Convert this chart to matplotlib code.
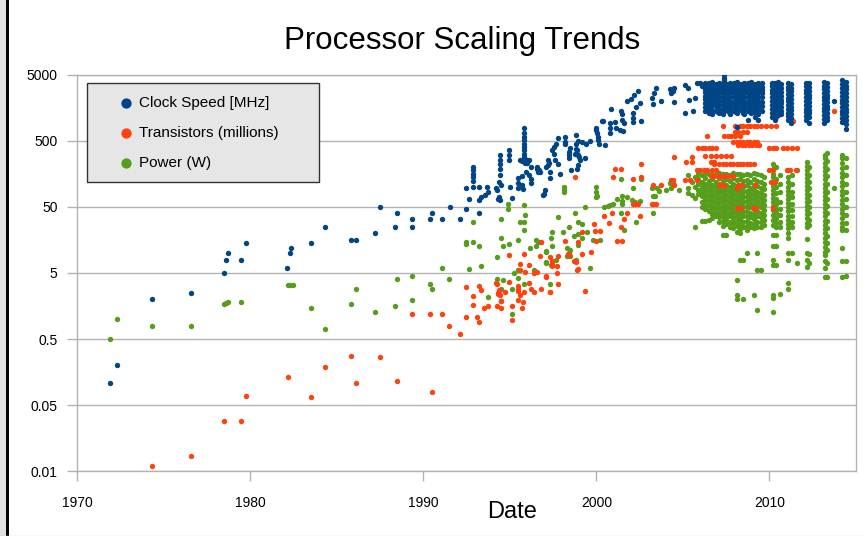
import matplotlib
matplotlib.use("Agg")
import matplotlib.pyplot as plt
from matplotlib.patches import Rectangle
from matplotlib.lines import Line2D
from matplotlib.ticker import FixedLocator, NullLocator

plt.rcParams['font.family'] = ['Liberation Sans', 'DejaVu Sans']

# ---- Clock speed [MHz] : scattered points up to ~2006
clock_x = [1971.9, 1972.3, 1974.35, 1976.6, 1978.5, 1978.6, 1978.7, 1979.5, 1979.75, 1982.15,
           1982.3, 1982.35, 1983.5, 1984.35, 1985.8, 1986.1, 1987.2, 1987.5, 1988.35, 1988.5,
           1989.35, 1989.35, 1990.4, 1990.5, 1991.1, 1991.55, 1992.1, 1992.5, 1992.65, 1992.45,
           1992.85, 1993.2, 1992.85, 1992.85, 1992.85, 1992.85, 1992.85, 1993.25, 1993.25, 1993.35,
           1993.55, 1993.75, 1993.7, 1994.2, 1994.25, 1994.3, 1994.35, 1994.45, 1994.5, 1994.4,
           1994.45, 1994.45, 1994.45, 1994.45, 1994.45, 1994.95, 1994.95, 1994.95, 1995.0, 1995.15,
           1995.45, 1995.5, 1995.45, 1995.7, 1995.7, 1995.75, 1995.6, 1995.7, 1995.9, 1996.0,
           1996.0, 1996.1, 1996.2, 1995.95, 1996.1, 1996.2, 1996.2, 1995.85, 1995.85, 1995.85,
           1995.85, 1995.85, 1995.85, 1995.85, 1995.85, 1995.85, 1996.6, 1996.65, 1996.75, 1996.7,
           1996.6, 1997.1, 1997.2, 1997.2, 1997.25, 1997.3, 1997.3, 1996.9, 1997.0, 1997.05,
           1997.45, 1997.55, 1997.65, 1997.55, 1997.6, 1997.9, 1997.8, 1998.2, 1998.2, 1998.2,
           1997.8, 1998.4, 1998.4, 1998.4, 1998.55, 1998.85, 1998.85, 1998.9, 1998.95, 1998.85,
           1998.95, 1999.2, 1999.4, 1998.9, 1998.75, 1999.0, 1999.05, 1998.95, 1998.9, 1999.35,
           1999.65, 2000.0, 2000.05, 2000.1, 2000.1, 2000.15, 2000.3, 2000.4, 2000.0, 2000.5,
           2000.8, 2000.8, 2000.8, 2000.85, 2001.05, 2001.15, 2001.35, 2001.55, 2001.45, 2001.5,
           2001.5, 2001.6, 2002.1, 2002.1, 2002.1, 2001.8, 2002.0, 2002.2, 2002.4, 2002.3,
           2002.55, 2002.6, 2003.2, 2003.35, 2003.45, 2003.3, 2003.75, 2004.25, 2004.3, 2004.4,
           2004.5, 2004.5, 2005.15, 2005.3, 2005.35, 2005.15, 2005.6, 2005.7, 2005.8, 2006.0,
           2006.1, 1998.5, 2013.75]
clock_y = [0.108, 0.2, 2.0, 2.5, 5.0, 8.0, 10.0, 8.0, 14.0, 6.0,
           10.0, 12.0, 14.0, 25.0, 16.0, 16.0, 20.0, 49.0, 25.0, 40.0,
           33.0, 25.0, 33.0, 40.0, 33.0, 49.0, 33.0, 47.0, 65.0, 98.0,
           101, 101, 200, 180, 160, 140, 122, 40, 63, 71,
           75, 85, 99, 95, 90, 65, 70, 63, 107, 118,
           150, 300, 260, 225, 190, 360, 300, 255, 101, 67,
           135, 115, 95, 145, 107, 93, 255, 245, 230, 255,
           230, 255, 200, 170, 150, 130, 115, 775, 650, 575,
           510, 455, 405, 360, 320, 285, 200, 170, 170, 180,
           190, 200, 255, 215, 230, 170, 135, 75, 78, 90,
           360, 400, 455, 320, 255, 160, 225, 575, 480, 455,
           550, 340, 300, 270, 180, 455, 380, 320, 300, 610,
           500, 480, 455, 360, 320, 285, 260, 215, 190, 270,
           500, 730, 650, 575, 510, 455, 1000, 1000, 770, 430,
           920, 770, 650, 1500, 970, 770, 720, 710, 1400, 1250,
           1050, 920, 1300, 1100, 970, 2000, 2150, 2500, 2800, 1650,
           1850, 1000, 2200, 2600, 3100, 1800, 2000, 3000, 2600, 2800,
           3100, 1900, 3500, 3200, 2100, 1330, 1400, 2250, 3700, 3700,
           3400, 385, 2000]

# ---- Clock speed: dense columns 2006-2015
clock_col_years = [2006.3, 2006.4, 2006.5, 2006.6, 2006.7, 2006.9, 2007.0, 2007.1, 2007.3,
                   2007.4, 2007.55, 2007.65, 2007.75, 2007.95, 2008.05, 2008.15, 2008.35,
                   2008.45, 2008.55, 2008.75, 2008.85, 2008.95, 2009.15, 2009.25, 2009.35,
                   2009.55, 2010.15, 2010.3, 2010.5, 2010.65, 2011.05, 2011.25, 2012.1, 2012.3,
                   2013.15, 2013.35, 2014.2, 2014.4]
clock_col_vals = [
    [3800, 3400, 3000, 2700, 2400, 2130, 1860, 1600, 1400],
    [3550, 3150, 2800, 2500, 2250, 2000, 1730, 1500],
    [3700, 3300, 2930, 2660, 2400, 2130, 1860, 1600, 1330],
    [3450, 3100, 2750, 2450, 2150, 1900, 1650, 1420],
    [3900, 3500, 3000, 2660, 2330, 2000, 1730, 1460, 1270],
    [3600, 3200, 2800, 2500, 2200, 1930, 1660, 1400],
    [3400, 3050, 2700, 2400, 2100, 1850, 1580, 1360],
    [3800, 3400, 3000, 2660, 2330, 2000, 1730, 1500, 1330],
    [3700, 3300, 2930, 2600, 2260, 2000, 1730, 1460, 1270],
    [4950, 4500, 4100, 3800, 3400, 3000, 2700, 2400, 2130, 1860, 1600, 1400],
    [3600, 3200, 2860, 2530, 2200, 1930, 1660, 1460],
    [3450, 3050, 2700, 2400, 2100, 1800, 1560, 1350],
    [3800, 3400, 3000, 2660, 2330, 2000, 1730, 1500, 1270],
    [3700, 3300, 2930, 2600, 2260, 1930, 1660, 1400],
    [3500, 3100, 2750, 2450, 2130, 1850, 1580, 1360],
    [3900, 3500, 3100, 2730, 2400, 2070, 1800, 1530, 1330, 800],
    [3600, 3200, 2860, 2530, 2200, 1930, 1660, 1460],
    [3450, 3050, 2700, 2400, 2100, 1800, 1560, 1330],
    [3800, 3400, 3000, 2660, 2330, 2000, 1730, 1500, 1270],
    [3700, 3300, 2930, 2600, 2260, 1930, 1660, 1400, 1030],
    [3500, 3100, 2750, 2450, 2130, 1850, 1580, 1350],
    [3900, 3500, 3100, 2730, 2400, 2070, 1800, 1530, 1330],
    [3600, 3200, 2860, 2530, 2200, 1930, 1660, 1460, 1140],
    [3450, 3050, 2700, 2400, 2100, 1800, 1560, 1330],
    [3800, 3400, 3000, 2660, 2330, 2000, 1730, 1500, 1270, 1030],
    [3700, 3300, 2930, 2600, 2260, 1930, 1660, 1400],
    [3800, 3350, 2950, 2600, 2300, 2000, 1750, 1520, 1330, 1150],
    [3700, 3250, 2850, 2500, 2200, 1930, 1700, 1480, 1300, 1140, 1030],
    [3900, 3400, 3000, 2650, 2330, 2050, 1800, 1580, 1400, 1230],
    [3600, 3150, 2750, 2400, 2100, 1850, 1620, 1420, 1250],
    [3750, 3300, 2900, 2550, 2250, 1980, 1740, 1520, 1330, 1170, 1030],
    [3650, 3200, 2800, 2450, 2150, 1880, 1650, 1450, 1270, 1110, 920],
    [3800, 3350, 2950, 2600, 2280, 2000, 1760, 1540, 1350, 1190, 1040],
    [3700, 3250, 2850, 2500, 2200, 1930, 1690, 1480, 1300, 1140, 920],
    [3850, 3400, 3000, 2650, 2330, 2050, 1800, 1580, 1390, 1220, 1070, 940],
    [3700, 3250, 2850, 2500, 2200, 1930, 1700, 1500, 1320, 1160, 1020],
    [4100, 3600, 3150, 2750, 2400, 2100, 1850, 1620, 1420, 1250, 1100, 960],
    [3900, 3400, 3000, 2600, 2280, 2000, 1750, 1540, 1350, 1180, 1040, 900, 760],
]

# ---- Transistors (millions): scattered points
trans_x = [1974.35, 1976.6, 1978.5, 1979.5, 1979.75, 1982.2, 1983.5, 1984.35, 1985.85, 1986.1,
           1987.5, 1988.5, 1990.5, 1989.35, 1990.4, 1991.1, 1991.5, 1992.1, 1992.5, 1992.5,
           1992.9, 1992.85, 1993.1, 1993.25, 1993.25, 1993.35, 1993.5, 1993.75, 1994.25, 1994.25,
           1994.3, 1994.4, 1994.45, 1994.4, 1994.5, 1994.5, 1994.7, 1994.95, 1995.15, 1995.15,
           1995.5, 1995.5, 1995.5, 1995.5, 1995.6, 1995.7, 1995.75, 1995.6, 1995.6, 1995.85,
           1995.9, 1996.1, 1996.2, 1996.4, 1996.6, 1996.8, 1996.75, 1997.1, 1997.35, 1997.45,
           1997.45, 1997.45, 1997.7, 1997.8, 1997.3, 1997.7, 1998.8, 1998.9, 1998.4, 1998.35,
           1994.95, 1995.85, 1996.1, 1996.8, 1997.8, 1998.2, 1997.1, 1994.2, 1994.3, 1994.5,
           1996.4, 1997.3, 1998.7, 1998.95, 1998.95, 1999.2, 1999.2, 1999.35, 1999.7, 1999.85,
           1999.95, 2000.2, 2000.0, 2000.45, 2000.9, 2000.75, 2001.6, 2001.4, 2001.75, 2002.5,
           2001.2, 2001.5, 2002.1, 2002.25, 2002.4, 2003.2, 2003.3, 2003.45, 1998.75, 2000.95,
           2002.6, 2001.05, 2001.45, 2002.6, 2003.3, 2003.75, 2004.5, 2004.3, 2004.45, 2004.5,
           2005.55, 2002.1, 2005.1, 2005.4, 2005.8, 2006.4, 2006.65, 2010.35, 2011.35, 2013.75,
           2008.1]
trans_y = [0.006, 0.0085, 0.029, 0.029, 0.068, 0.134, 0.066, 0.19, 0.275, 0.108,
           0.27, 0.117, 0.078, 1.2, 1.2, 1.2, 0.8, 0.59, 1.08, 3.1,
           2.27, 1.66, 1.08, 0.92, 3.2, 2.76, 1.5, 1.58, 3.45, 1.58,
           2.4, 2.4, 2.35, 2.75, 1.86, 1.47, 2.6, 3.6, 1.58, 0.98,
           3.2, 2.9, 2.7, 1.98, 2.3, 1.5, 1.8, 6.9, 5.5, 2.6,
           5.1, 3.5, 2.9, 2.6, 5.1, 2.9, 9.0, 4.5, 2.55, 7.5,
           6.9, 6.4, 5.0, 3.45, 8.6, 6.3, 7.3, 5.5, 9.3, 9.6,
           9.3, 9.6, 6.7, 14.75, 9.0, 15.3, 4.4, 3.5, 2.5, 1.9,
           5.0, 2.6, 7.6, 5.7, 14.75, 9.7, 20.9, 2.67, 10.3, 27.6,
           21.6, 21.6, 15, 36.5, 41, 28.6, 32.6, 24.6, 41, 36.5,
           15, 15, 55, 55, 55, 55, 55, 55, 140, 140,
           140, 185, 185, 220, 108, 108, 108, 127, 127, 280,
           280, 130, 127, 127, 127, 590, 1350, 1160, 990, 1430,
           97]

# ---- Transistors: horizontal rows in the 2005-2012 cluster
trans_row_vals = [830, 690, 600, 480, 430, 385, 295, 240, 220, 180, 146, 120, 108, 47.5]
trans_row_years = [
    [2007.3, 2008.0, 2008.3, 2008.5, 2008.7, 2008.9, 2009.1, 2009.3, 2009.5, 2009.8, 2010.1, 2010.35],
    [2008.0, 2008.2, 2008.5, 2008.7],
    [2007.4, 2007.6, 2007.8, 2008.0, 2008.3],
    [2007.9, 2008.1, 2008.3, 2008.5, 2008.7, 2008.9, 2009.1, 2009.3],
    [2008.2, 2008.4, 2008.6, 2008.8, 2009.0, 2009.2, 2009.4],
    [2005.9, 2006.1, 2006.3, 2006.5, 2006.7, 2006.9, 2010.0, 2010.2, 2010.4, 2010.8, 2011.0,
     2011.3, 2011.6],
    [2006.3, 2006.6, 2006.9, 2007.2, 2007.5, 2007.8],
    [2005.2, 2005.5, 2006.6, 2006.8],
    [2006.8, 2007.1, 2007.3, 2007.5, 2007.7, 2007.9, 2008.1, 2008.3, 2008.5, 2008.7, 2008.9, 2009.1],
    [2005.8, 2006.0, 2006.2, 2006.4, 2006.7, 2006.9, 2010.0, 2010.2, 2011.0, 2011.2, 2011.55],
    [2006.6, 2006.8, 2007.0, 2007.2, 2007.4, 2007.6, 2007.9],
    [2010.1, 2010.3],
    [2007.1, 2007.25, 2007.4, 2008.2, 2008.4, 2009.15],
    [2008.1, 2008.35, 2009.05, 2009.25, 2010.2],
]

# ---- Power (W): scattered points
power_x = [1971.9, 1972.3, 1974.35, 1976.6, 1978.5, 1978.6, 1978.7, 1979.5, 1982.2, 1982.3,
           1982.45, 1983.5, 1984.35, 1985.85, 1986.1, 1987.2, 1988.35, 1988.5, 1989.35, 1989.35,
           1990.4, 1990.5, 1991.1, 1991.5, 1992.65, 1993.35, 1994.25, 1993.75, 1994.25, 1994.6,
           1994.5, 1995.15, 1995.5, 1995.5, 1995.85, 1995.15, 1996.4, 1997.1, 1997.35, 1997.65,
           1997.1, 1992.5, 1992.5, 1992.9, 1993.25, 1992.85, 1994.5, 1994.6, 1994.95, 1995.5,
           1994.5, 1994.9, 1994.9, 1995.6, 1995.85, 1995.8, 1995.85, 1995.9, 1996.15, 1996.5,
           1996.65, 1996.5, 1996.8, 1997.1, 1997.4, 1997.45, 1997.45, 1997.1, 1997.4, 1997.8,
           1998.15, 1998.15, 1998.15, 1998.1, 1998.4, 1998.7, 1998.95, 1998.95, 1998.3, 1998.4,
           1998.45, 1998.3, 1995.25, 1998.45, 1998.85, 1999.65, 1998.95, 1999.2, 1999.45, 1999.2,
           1999.8, 2000.2, 1998.75, 1999.35, 2000.0, 2000.05, 2000.45, 2000.7, 2000.8, 2000.95,
           2001.2, 2001.5, 2001.5, 2001.5, 2001.8, 2002.05, 2002.25, 2002.55, 2001.4, 2003.3,
           2002.3, 2001.6, 2003.25, 2003.4, 2000.0, 2000.0, 2001.45, 2002.1, 2002.6, 2003.2,
           2003.6, 2004.25, 2004.45, 2004.3, 2003.5, 2004.0, 2004.75, 2013.75]
power_y = [0.5, 1.0, 0.8, 0.8, 1.7, 1.75, 1.8, 1.8, 3.3, 3.3,
           3.3, 1.47, 0.71, 1.7, 2.9, 1.28, 1.58, 4.0, 4.46, 1.98,
           3.45, 2.9, 6.0, 4.0, 5.7, 6.3, 8.8, 2.2, 4.1, 3.9,
           2.9, 2.9, 5.5, 4.2, 3.45, 1.18, 5.5, 7.3, 3.45, 8.0,
           10.5, 14.75, 13.9, 14.75, 12.7, 29.6, 16.7, 12.9, 13.6, 15.9,
           32.6, 55, 47, 29.6, 30, 22.7, 54, 37.5, 11.8, 15.6,
           14.6, 13, 14.75, 10.9, 16.7, 20.9, 13, 7.0, 6.5, 35,
           101, 91, 83, 20.5, 24.8, 17.9, 19.7, 13.3, 11.8, 9.9,
           9.0, 8.9, 5.0, 11.3, 8.0, 5.9, 29.6, 27.6, 20.9, 16.8,
           15.9, 15.9, 41, 49, 71, 73, 49, 52, 53, 56,
           65, 73, 62, 56, 71, 63, 60, 61, 41, 40,
           29.6, 22.4, 72, 72, 101, 85, 130, 98, 130, 98,
           87, 115, 115, 95, 95, 90, 90, 95]

# ---- Power: dense columns 2005-2015
power_col_years = [2005.3, 2005.5, 2005.7, 2005.9, 2006.1, 2006.3, 2006.5, 2006.7, 2006.9,
                   2007.1, 2007.3, 2007.5, 2007.7, 2007.9, 2008.1, 2008.3, 2008.5, 2008.7,
                   2008.9, 2009.1, 2009.3, 2009.5, 2009.7, 2010.2, 2010.35, 2010.6,
                   2011.1, 2011.3, 2011.6, 2012.15, 2012.3, 2013.2, 2013.35, 2014.2, 2014.4]
power_col_vals = [
    [150, 95, 80],
    [120, 75],
    [140, 100, 68, 24.8],
    [160, 130, 110, 90, 78],
    [150, 120, 100, 85, 72, 60, 50, 30.6],
    [165, 135, 112, 92, 78, 66, 55, 46, 30.6],
    [155, 125, 105, 88, 74, 62, 52, 44, 31.7],
    [160, 130, 108, 90, 76, 64, 54, 46, 39, 34.3],
    [150, 120, 100, 84, 71, 60, 50, 42, 36],
    [165, 135, 112, 94, 80, 68, 57, 48, 41, 35, 30],
    [155, 125, 104, 87, 73, 62, 52, 44, 37, 31, 26, 18.6],
    [160, 130, 108, 90, 76, 64, 54, 46, 39, 33, 28, 19],
    [150, 122, 100, 84, 71, 60, 50, 42, 36, 30, 25],
    [165, 135, 110, 92, 78, 66, 55, 47, 40, 34, 29, 24],
    [155, 126, 104, 87, 73, 62, 52, 44, 37, 31, 26, 21, 3.9, 2.3, 2.0],
    [160, 130, 108, 90, 76, 64, 54, 46, 39, 33, 28, 23, 19.8, 7.8],
    [150, 122, 100, 84, 71, 60, 50, 42, 36, 30, 25, 8, 2.0],
    [160, 128, 106, 88, 74, 62, 52, 44, 37, 31, 26, 22, 10],
    [150, 120, 98, 82, 69, 58, 49, 41, 35, 29, 24.8],
    [165, 132, 108, 90, 76, 64, 54, 46, 39, 33, 28, 24, 2.3],
    [155, 125, 102, 85, 72, 61, 51, 43, 36, 30, 25, 10, 5.5, 1.4],
    [150, 120, 98, 82, 69, 58, 49, 41, 35, 30, 24.8, 5.5],
    [140, 112, 92, 76, 64, 54, 45, 38, 32, 27],
    [225, 190, 160, 140, 120, 105, 90, 78, 68, 60, 52, 45, 38, 32, 27, 18.6, 13, 7.9, 6.5,
     2.35, 2.1, 1.3],
    [200, 130, 100, 80, 65, 55, 47, 40, 34, 29, 25, 18.6, 13, 6.7],
    [150, 110, 85, 60, 47, 38, 30, 25, 2.4],
    [180, 140, 120, 100, 88, 76, 66, 57, 50, 43, 37, 32, 28, 24, 20, 17, 10, 8, 3.5, 2.9],
    [150, 110, 85, 70, 55, 45, 36, 30, 25, 10],
    [180, 7.0],
    [235, 210, 180, 155, 135, 118, 102, 90, 78, 68, 60, 52, 45, 39, 34, 29, 25, 16.6, 10, 8, 6.2],
    [200, 150, 120, 95, 75, 62, 50, 40, 32, 27, 9.8, 7],
    [305, 270, 230, 200, 175, 150, 130, 112, 98, 85, 74, 64, 56, 48, 42, 36, 31, 27, 23, 20,
     17, 14.5, 12.5, 10.5, 9.3, 7.5, 6, 4.3],
    [330, 250, 190, 145, 110, 85, 66, 52, 40, 31, 24, 18, 14, 11, 7.1, 4.4],
    [305, 270, 230, 195, 165, 140, 120, 102, 88, 75, 64, 55, 47, 40, 34, 29, 25, 22, 12, 7.5, 4.4],
    [270, 200, 150, 110, 85, 65, 50, 38, 29, 22, 7.5, 4.5],
]

series_labels = ['Clock Speed [MHz]', 'Transistors (millions)', 'Power (W)']
series_colors = ['#004586', '#ff420e', '#579d1c']
ytick_vals = [0.005, 0.05, 0.5, 5, 50, 500, 5000]
ytick_labels = ['0.01', '0.05', '0.5', '5', '50', '500', '5000']
xtick_vals = [1970, 1980, 1990, 2000, 2010]


def from_cols(years, cols):
    xs, ys = [], []
    for yr, vals in zip(years, cols):
        xs += [yr] * len(vals)
        ys += list(vals)
    return xs, ys


def from_rows(vals, rows):
    xs, ys = [], []
    for v, yrs in zip(vals, rows):
        xs += list(yrs)
        ys += [v] * len(yrs)
    return xs, ys


cx, cy = from_cols(clock_col_years, clock_col_vals)
tx, ty = from_rows(trans_row_vals, trans_row_years)
px, py = from_cols(power_col_years, power_col_vals)

W, H = 865, 536
fig = plt.figure(figsize=(W / 100, H / 100), dpi=100)
ax = fig.add_axes([77 / W, 1 - 471.3 / H, (856 - 77) / W, (471.3 - 74.7) / H])

ms = 15
ax.scatter(power_x + px, power_y + py, s=ms, color=series_colors[2], linewidths=0, zorder=3)
ax.scatter(trans_x + tx, trans_y + ty, s=ms, color=series_colors[1], linewidths=0, zorder=4)
ax.scatter(clock_x + cx, clock_y + cy, s=ms, color=series_colors[0], linewidths=0, zorder=5)

ax.set_yscale('log')
ax.set_xlim(1970, 2015)
ax.set_ylim(0.005, 5000)
ax.yaxis.set_major_locator(FixedLocator(ytick_vals))
ax.yaxis.set_minor_locator(NullLocator())
ax.set_yticklabels(ytick_labels)
ax.set_xticks(xtick_vals)
ax.set_xticklabels([str(v) for v in xtick_vals])

grid_c = '#b3b3b3'
ax.yaxis.grid(True, color=grid_c, lw=1, zorder=0)
ax.set_axisbelow(True)
for s in ax.spines.values():
    s.set_color(grid_c)
    s.set_linewidth(1)
ax.tick_params(axis='both', direction='out', length=7, width=1, color=grid_c,
               labelsize=10, labelcolor='black')
ax.tick_params(axis='x', pad=11)
ax.tick_params(axis='y', pad=7)

# legend drawn by hand (grey box, dots on the left)
ax.add_patch(Rectangle((0.0125, 0.7302), 0.2985, 0.2481, transform=ax.transAxes,
                       facecolor='#e6e6e6', edgecolor='#333333', lw=1, zorder=10,
                       clip_on=False))
for yy, lab, col in zip([0.9279, 0.8538, 0.7766], series_labels, series_colors):
    ax.scatter([0.0629], [yy], s=55, color=col, linewidths=0, transform=ax.transAxes,
               zorder=11, clip_on=False)
    ax.text(0.0792, yy, lab, transform=ax.transAxes, fontsize=11, va='center',
            ha='left', zorder=11)

fig.text(462 / W, 1 - 41 / H, 'Processor Scaling Trends', ha='center', va='center',
         fontsize=22.5)
fig.text(512 / W, 1 - 512 / H, 'Date', ha='center', va='center', fontsize=17)

# window frame on the left and bottom edge
fig.add_artist(Rectangle((0, 0), 6 / W, 1, transform=fig.transFigure,
                         facecolor='#e0e0e0', edgecolor='none'))
fig.add_artist(Rectangle((6 / W, 0), 3 / W, 1, transform=fig.transFigure,
                         facecolor='black', edgecolor='none'))
fig.add_artist(Line2D([0, 1], [0.5 / H, 0.5 / H], transform=fig.transFigure,
                      color='#d9d9d9', lw=1))

fig.savefig('out.png', dpi=100)
